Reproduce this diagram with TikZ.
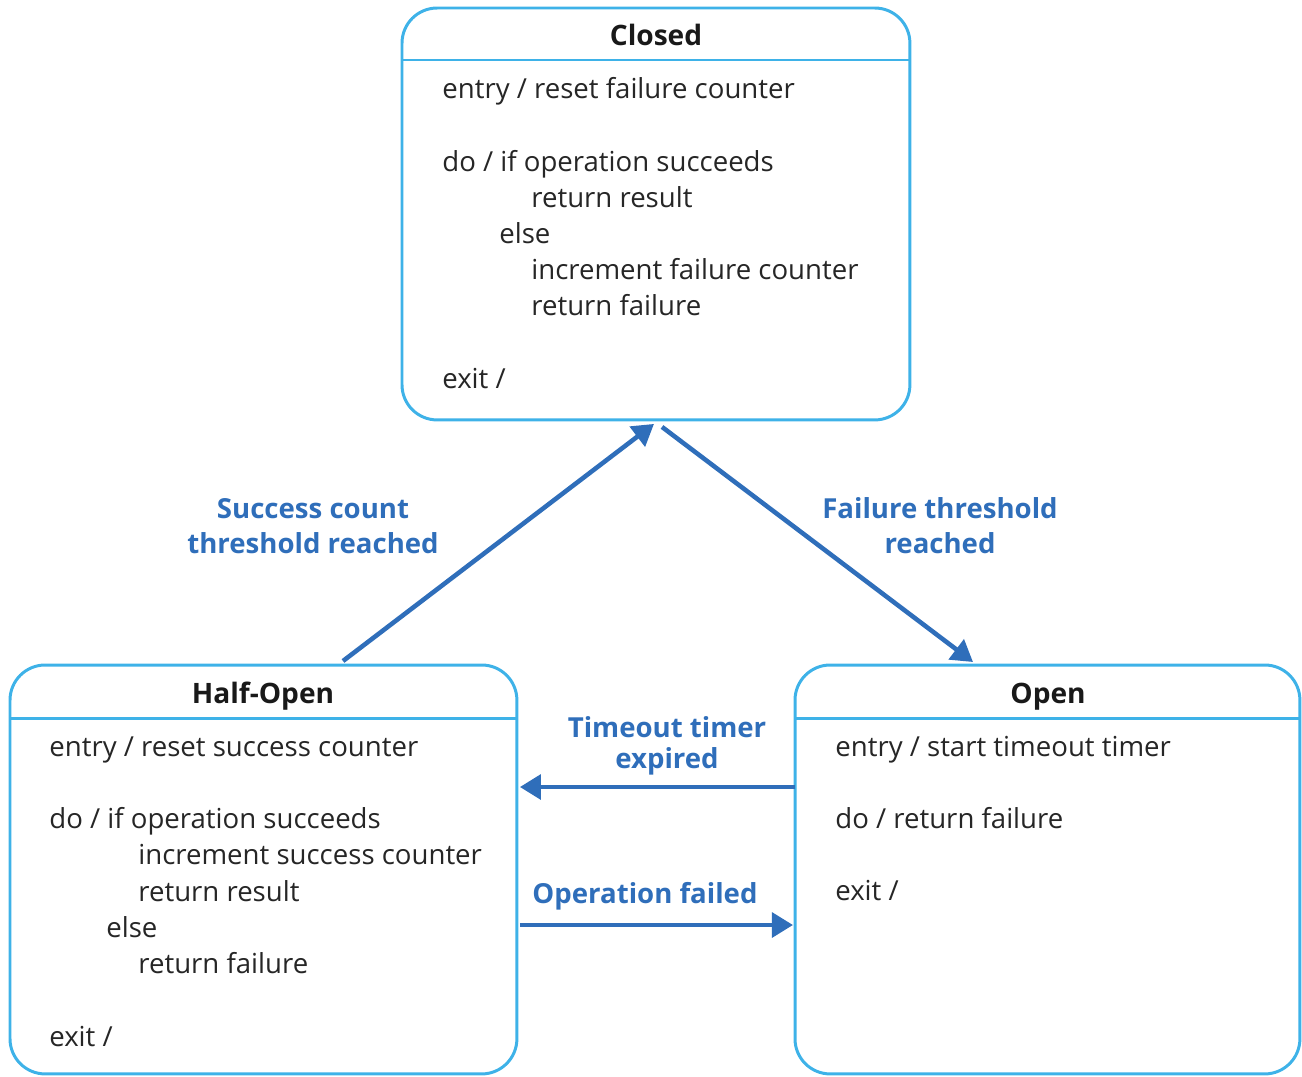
\documentclass[tikz,border=0pt]{standalone}
\usepackage{fontspec}
\setmainfont{Open Sans}
\usetikzlibrary{arrows.meta,calc}
\definecolor{boxblue}{RGB}{62,178,232}
\definecolor{arrblue}{RGB}{47,110,186}
\begin{document}
\begin{tikzpicture}[x=0.02cm,y=-0.02cm,
  state/.style={draw=boxblue,line width=1.7pt,rounded corners=20pt,inner sep=0pt,outer sep=0pt,anchor=north west,fill=white},
  sep/.style={draw=boxblue,line width=1.7pt},
  ttl/.style={anchor=base,font=\fontsize{16}{19}\selectfont\bfseries,inner sep=0pt,text=black!90},
  body/.style={anchor=base west,font=\fontsize{15.7}{19}\selectfont,inner sep=0pt,text=black!85},
  lbl/.style={anchor=base,font=\fontsize{15.7}{19}\selectfont\bfseries,text=arrblue,inner sep=0pt},
  trans/.style={draw=arrblue,line width=2.6pt,-{Triangle[length=12pt,width=14pt]}}]
\useasboundingbox (0,0) rectangle (1302,1076);

% states
\node[state,minimum width=10.16cm,minimum height=8.24cm] (closed) at (402,8) {};
\node[state,minimum width=10.14cm,minimum height=8.18cm] (half) at (10,665) {};
\node[state,minimum width=10.10cm,minimum height=8.18cm] (open) at (795,665) {};

\draw[sep] ($(closed.north west)+(0,52)$) -- ($(closed.north east)+(0,52)$);
\draw[sep] ($(half.north west)+(0,53)$) -- ($(half.north east)+(0,53)$);
\draw[sep] ($(open.north west)+(0,53)$) -- ($(open.north east)+(0,53)$);

% Closed
\node[ttl] (tclosed) at (656,45) {Closed};
\node[body] (c1) at (442,98) {entry / reset failure counter};
\node[body] (c2) at (442,171) {do / if operation succeeds};
\node[body] (c3) at (531,207) {return result};
\node[body] (c4) at (499,243) {else};
\node[body] (c5) at (531,279) {increment failure counter};
\node[body] (c6) at (531,315) {return failure};
\node[body] (c7) at (442,388) {exit /};

% Half-Open
\node[ttl] (thalf) at (263,703) {Half-Open};
\node[body] (h1) at (49,756) {entry / reset success counter};
\node[body] (h2) at (49,828) {do / if operation succeeds};
\node[body] (h3) at (138,864) {increment success counter};
\node[body] (h4) at (138,901) {return result};
\node[body] (h5) at (106,937) {else};
\node[body] (h6) at (138,973) {return failure};
\node[body] (h7) at (49,1046) {exit /};

% Open
\node[ttl] (topen) at (1048,703) {Open};
\node[body] (o1) at (835,756) {entry / start timeout timer};
\node[body] (o2) at (835,828) {do / return failure};
\node[body] (o3) at (835,900) {exit /};

% connector end points
\coordinate (hs) at ($(half.north west)+(333,-4)$);
\coordinate (ce1) at ($(closed.south west)+(252,4)$);
\coordinate (cs) at ($(closed.south west)+(260,7)$);
\coordinate (oe) at ($(open.north west)+(178,-3)$);
\coordinate (os) at ($(open.north west)+(0,122)$);
\coordinate (he) at ($(half.north east)+(3,122)$);
\coordinate (hs2) at ($(half.north east)+(3,260)$);
\coordinate (oe2) at ($(open.north west)+(-2,260)$);

\draw[trans] (hs) -- (ce1);
\draw[trans] (cs) -- (oe);
\draw[trans] (os) -- (he);
\draw[trans] (hs2) -- (oe2);

% labels
\node[lbl] (l1a) at (313,518) {Success count};
\node[lbl] (l1b) at (313,553) {threshold reached};
\node[lbl] (l2a) at (940,518) {Failure threshold};
\node[lbl] (l2b) at (940,553) {reached};
\node[lbl] (l3a) at (667,737) {Timeout timer};
\node[lbl] (l3b) at (667,768) {expired};
\node[lbl] (l4) at (645,903) {Operation failed};
\end{tikzpicture}
\end{document}
